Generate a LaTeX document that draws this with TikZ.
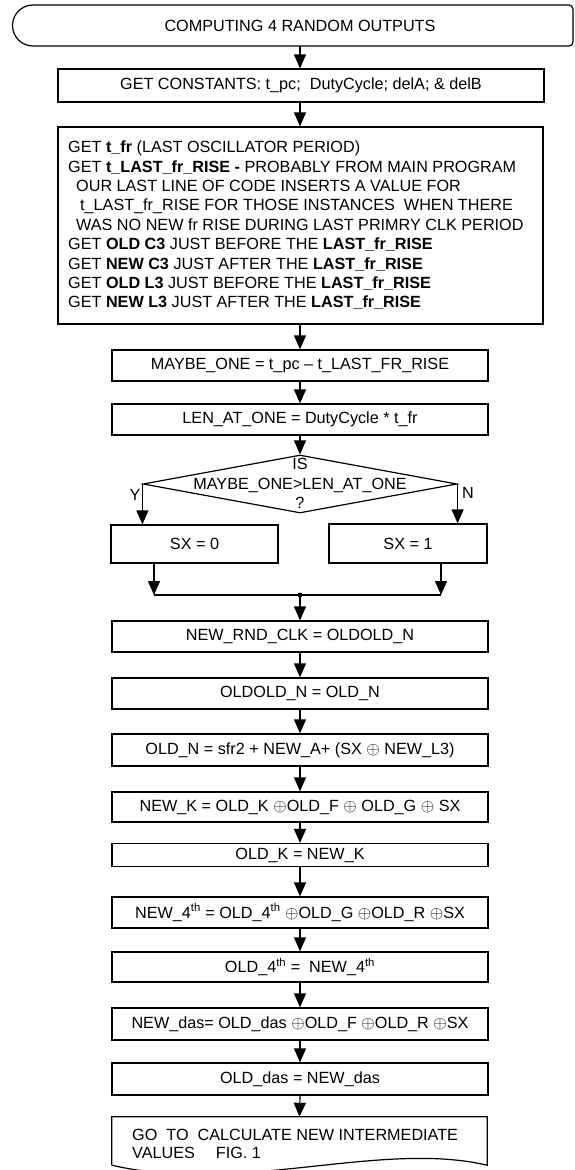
\documentclass[tikz,border=0pt]{standalone}
\usepackage{fontspec}
\setmainfont{Liberation Sans}
\usetikzlibrary{arrows.meta,shapes.geometric}
\newcommand{\xo}{\ensuremath{\oplus}}
\begin{document}
\begin{tikzpicture}[x=1pt,y=-1pt,
  every node/.style={font=\fontsize{16.2}{19.4}\selectfont},
  lw/.style={line width=1.2pt},
  box/.style={draw, lw, minimum width=376pt, minimum height=31pt, inner sep=0pt, anchor=center},
  arr/.style={lw, -{Triangle[length=14pt,width=12pt]}}
  ]
\useasboundingbox (0,0) rectangle (575,1170);

% terminal
\draw[lw] (33,5) -- (569,5) arc[start angle=-90,end angle=0,radius=4] -- (573,42)
  arc[start angle=0,end angle=90,radius=4] -- (33,46)
  arc[start angle=90,end angle=270,radius=20.5] -- cycle;
\node[minimum height=41pt, inner sep=0pt] (term) at (300,25.5) {COMPUTING 4 RANDOM OUTPUTS};

\node[box, minimum width=486pt, minimum height=33pt] (b2) at (301,85.5) {GET CONSTANTS: t\_pc;\ \ DutyCycle; delA; \& delB};

\node[box, minimum width=485pt, minimum height=197pt] (b3) at (300.5,225.5) {};
\node[align=left, anchor=west, inner sep=0pt] (b3t) at (68,225.5) {GET \textbf{t\_fr} (LAST OSCILLATOR PERIOD)\\
GET \textbf{t\_LAST\_fr\_RISE -} PROBABLY FROM MAIN PROGRAM\\
\hspace*{8pt}OUR LAST LINE OF CODE INSERTS A VALUE FOR\\
\hspace*{12pt}t\_LAST\_fr\_RISE FOR THOSE INSTANCES\ \ WHEN THERE\\
\hspace*{8pt}WAS NO NEW fr RISE DURING LAST PRIMRY CLK PERIOD\\
GET \textbf{OLD C3} JUST BEFORE THE \textbf{LAST\_fr\_RISE}\\
GET \textbf{NEW C3} JUST AFTER THE \textbf{LAST\_fr\_RISE}\\
GET \textbf{OLD L3} JUST BEFORE THE \textbf{LAST\_fr\_RISE}\\
GET \textbf{NEW L3} JUST AFTER THE \textbf{LAST\_fr\_RISE}};

\node[box] (c1) at (300,365.5) {MAYBE\_ONE = t\_pc – t\_LAST\_FR\_RISE};
\node[box] (c2) at (300,419.5) {LEN\_AT\_ONE = DutyCycle * t\_fr};

\node[draw, lw, diamond, minimum width=314pt, minimum height=58pt, inner sep=0pt] (dec) at (300,484) {};
\node[align=center, inner sep=0pt] (dect) at (300,483.5) {IS\\MAYBE\_ONE>LEN\_AT\_ONE\\?};
\node (ylab) at (135,495) {Y};
\node (nlab) at (468,493) {N};

\node[box, minimum width=167pt, minimum height=38pt] (sx0) at (194.5,544) {SX = 0};
\node[box, minimum width=158pt, minimum height=39pt] (sx1) at (408,543.5) {SX = 1};

\coordinate (m0) at (154,595);
\coordinate (m1) at (441,595);
\coordinate (md) at (300,595);

\node[box] (n1) at (300,636.5) {NEW\_RND\_CLK = OLDOLD\_N};
\node[box] (n2) at (300,693.5) {OLDOLD\_N = OLD\_N};
\node[box, minimum height=32pt] (n3) at (300,750) {OLD\_N = sfr2 + NEW\_A+ (SX \xo{} NEW\_L3)};
\node[box, minimum height=30pt] (n4) at (300,807) {NEW\_K = OLD\_K \xo OLD\_F \xo{} OLD\_G \xo{} SX};
\node[box, minimum height=23pt] (n5) at (300,855) {OLD\_K = NEW\_K};
\node[box] (n6) at (300,912.5) {NEW\_4\textsuperscript{th} = OLD\_4\textsuperscript{th} \xo OLD\_G \xo OLD\_R \xo SX};
\node[box, minimum height=30pt] (n7) at (300,967) {OLD\_4\textsuperscript{th} =\ \ NEW\_4\textsuperscript{th}};
\node[box, minimum height=32pt] (n8) at (300,1024) {NEW\_das= OLD\_das \xo OLD\_F \xo OLD\_R \xo SX};
\node[box, minimum height=32pt] (n9) at (300,1079) {OLD\_das = NEW\_das};

\node[minimum width=375pt, minimum height=48pt, inner sep=0pt] (doc) at (299.5,1141) {};
\draw[lw] (doc.south west) -- (doc.north west) -- (doc.north east) -- (doc.south east)
  .. controls (380,1140) and (240,1195) .. (doc.south west);
\node[align=left, anchor=west, inner sep=0pt, font=\fontsize{16.2}{18}\selectfont] (doct) at (132,1144) {GO\ \ TO\ \ CALCULATE NEW INTERMEDIATE\\VALUES\hspace{21pt}FIG. 1};

% connectors
\draw[arr] (term.south) -- (term.south |- b2.north);
\draw[arr] (b2.south -| c1) -- (b3.north -| c1);
\draw[arr] (b3.south -| c1) -- (c1.north);
\draw[arr] (c1) ++(0,15.5) -- (c2.north);
\draw[arr] (c2.south) -- (dec.north);
\draw[arr] (dec.west) -- (dec.west |- sx0.north);
\draw[arr] (dec.east) -- (dec.east |- sx1.north);
\draw[arr] (sx0.south -| m0) -- (m0);
\draw[arr] (sx1.south -| m1) -- (m1);
\draw[lw] (m0) -- (m1);
\fill (md) circle[radius=2.5];
\draw[arr] (md) -- (n1.north);
\draw[arr] (n1.south) -- (n2.north);
\draw[arr] (n2.south) -- (n3.north);
\draw[arr] (n3.south) -- (n4.north);
\draw[arr] (n4.south) -- (n5.north);
\draw[arr] (n5.south) -- (n6.north);
\draw[arr] (n6.south) -- (n7.north);
\draw[arr] (n7.south) -- (n8.north);
\draw[arr] (n8.south) -- (n9.north);
\draw[arr] (n9.south) -- (doc.north);
\end{tikzpicture}
\end{document}
